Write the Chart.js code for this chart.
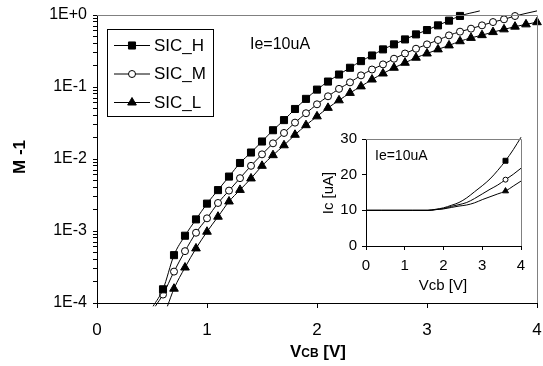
<!DOCTYPE html>
<html>
<head>
<meta charset="utf-8">
<script src="https://cdn.jsdelivr.net/npm/chart.js@4.4.0/dist/chart.umd.min.js"></script>
<style>
  html, body { margin: 0; padding: 0; background: #fff; }
  #wrap { position: relative; width: 543px; height: 366px; }
  #main { position: absolute; left: 0; top: 0; }
  #inset { position: absolute; left: 300px; top: 125px; }
</style>
</head>
<body>
<div id="wrap">
  <canvas id="main" width="543" height="366"></canvas>
  <canvas id="inset" width="235" height="175"></canvas>
</div>
<script>
// ----- main chart data (M-1 vs Vcb) -----
const hVolts = [0.6,0.7,0.8,0.9,1.0,1.1,1.2,1.3,1.4,1.5,1.6,1.7,1.8,1.9,2.0,2.1,2.2,2.3,2.4,2.5,2.6,2.7,2.8,2.9,3.0,3.1,3.2,3.3];
const hValues = [1.55e-4,4.62e-4,8.6e-4,1.45e-3,2.4e-3,3.7e-3,5.7e-3,8.8e-3,0.0123,0.0175,0.0251,0.0347,0.0495,0.0684,0.092,0.119,0.149,0.185,0.229,0.274,0.333,0.391,0.458,0.538,0.618,0.718,0.835,0.97];

const mVolts = [0.6,0.7,0.8,0.9,1.0,1.1,1.2,1.3,1.4,1.5,1.6,1.7,1.8,1.9,2.0,2.1,2.2,2.3,2.4,2.5,2.6,2.7,2.8,2.9,3.0,3.1,3.2,3.3,3.4,3.5,3.6,3.7,3.8];
const mValues = [1.31e-4,2.73e-4,5.25e-4,9.46e-4,1.5e-3,2.45e-3,3.64e-3,5.42e-3,8.04e-3,0.0116,0.0165,0.023,0.032,0.0432,0.0575,0.0743,0.0942,0.116,0.145,0.175,0.206,0.247,0.292,0.34,0.391,0.449,0.521,0.587,0.646,0.718,0.798,0.871,0.968];

const lVolts = [0.7,0.8,0.9,1.0,1.1,1.2,1.3,1.4,1.5,1.6,1.7,1.8,1.9,2.0,2.1,2.2,2.3,2.4,2.5,2.6,2.7,2.8,2.9,3.0,3.1,3.2,3.3,3.4,3.5,3.6,3.7,3.8,3.9,4.0];
const lValues = [1.58e-4,3.11e-4,5.73e-4,9.77e-4,1.58e-3,2.57e-3,3.72e-3,5.37e-3,8.04e-3,0.0113,0.0155,0.0217,0.0295,0.0391,0.0513,0.0653,0.0828,0.102,0.127,0.154,0.185,0.217,0.255,0.292,0.333,0.378,0.432,0.481,0.525,0.579,0.632,0.689,0.741,0.794];

// where the fitted lines run past the first / last marker
const hLineStart = [0.51, 9e-5],  hLineEnd = [3.48, 1.14];
const mLineStart = [0.53, 9e-5],  mLineEnd = [4.0, 1.14];
const lLineStart = [0.64, 9e-5],  lLineEnd = null;

const xTicks = [0, 1, 2, 3, 4];
const yMajorTicks = [1e-4, 1e-3, 1e-2, 1e-1, 1];
const yTickLabels = ['1E-4', '1E-3', '1E-2', '1E-1', '1E+0'];

// ----- inset data (Ic vs Vcb) -----
const insetVolts = [0,0.4,0.8,1.2,1.6,1.8,2.0,2.2,2.4,2.6,2.8,3.0,3.2,3.4,3.6,3.8,4.0];
const insetH = [10,10,10,10,10,10.3,10.7,11.4,12.2,13.5,15.2,16.9,18.8,21.2,23.9,27.0,30.5];
const insetM = [10,10,10,10,10,10.2,10.5,11.1,11.6,12.2,13.3,14.6,15.9,17.1,18.6,20.1,21.8];
const insetL = [10,10,10,10,10,10.2,10.4,10.8,11.2,11.5,12.1,13.0,13.8,14.6,15.4,16.8,18.2];
const insetMarkerAt = 3.6;
const insetXTicks = [0, 1, 2, 3, 4];
const insetYTicks = [0, 10, 20, 30];

const FONT = "'Liberation Sans', Arial, sans-serif";
Chart.defaults.font.family = FONT;
Chart.defaults.color = '#000';

// minor ticks 2..9 in each decade, so the log axis gets its small marks
const yTickValues = [];
yMajorTicks.forEach((v, i) => {
  yTickValues.push(v);
  if (i < yMajorTicks.length - 1) for (let k = 2; k <= 9; k++) yTickValues.push(v * k);
});

function lineData(start, xs, ys, end) {
  const d = xs.map((x, i) => ({ x: x, y: ys[i] }));
  if (start) d.unshift({ x: start[0], y: start[1], ext: true });
  if (end) d.push({ x: end[0], y: end[1], ext: true });
  return d;
}

const SERIES = [
  { label: 'SIC_H', style: 'rect',     radius: 5,   fill: '#000' },
  { label: 'SIC_M', style: 'circle',   radius: 3.5, fill: '#fff' },
  { label: 'SIC_L', style: 'triangle', radius: 5,   fill: '#000' }
];

function mainDataset(s, data) {
  return {
    label: s.label,
    data: data,
    borderColor: '#000',
    borderWidth: 1,
    pointStyle: s.style,
    pointRadius: c => (c.raw && c.raw.ext) ? 0 : s.radius,
    pointHoverRadius: c => (c.raw && c.raw.ext) ? 0 : s.radius,
    pointBackgroundColor: s.fill,
    pointBorderColor: '#000',
    pointBorderWidth: 1,
    cubicInterpolationMode: 'monotone',
    clip: false
  };
}

// keep the plot box where the layout padding puts it (no label overflow padding)
function noXPad(s, h) { s.height = h; s.paddingLeft = 0; s.paddingRight = 0; }
function noYPad(s, w) { s.width = w; s.paddingTop = 0; s.paddingBottom = 0; }

const mainDecor = {
  id: 'mainDecor',
  afterDraw(chart) {
    const ctx = chart.ctx, a = chart.chartArea;
    ctx.save();
    // plot area frame on top and right
    ctx.strokeStyle = '#808080';
    ctx.lineWidth = 1;
    ctx.beginPath();
    ctx.moveTo(a.left, a.top + 0.5);
    ctx.lineTo(a.right + 0.5, a.top + 0.5);
    ctx.lineTo(a.right + 0.5, a.bottom);
    ctx.stroke();

    // legend box
    ctx.strokeStyle = '#000';
    ctx.fillStyle = '#fff';
    ctx.fillRect(107.5, 29.5, 106, 87);
    ctx.strokeRect(107.5, 29.5, 106, 87);
    const rows = [45, 73.5, 102];
    ctx.font = '17px ' + FONT;
    ctx.textBaseline = 'middle';
    SERIES.forEach((s, i) => {
      const y = rows[i];
      ctx.strokeStyle = '#000';
      ctx.beginPath();
      ctx.moveTo(114, y + 0.5);
      ctx.lineTo(150, y + 0.5);
      ctx.stroke();
      ctx.fillStyle = s.fill;
      Chart.helpers.drawPoint(ctx, { pointStyle: s.style, radius: s.radius, borderWidth: 1, rotation: 0 }, 132, y + 0.5);
      ctx.fillStyle = '#000';
      ctx.fillText(s.label, 154, y + 1);
    });

    ctx.font = '16px ' + FONT;
    ctx.fillText('Ie=10uA', 250, 45);

    // y title
    ctx.save();
    ctx.translate(20, 157);
    ctx.rotate(-Math.PI / 2);
    ctx.font = 'bold 17px ' + FONT;
    ctx.textAlign = 'center';
    ctx.fillText('M -1', 0, 0);
    ctx.restore();

    // x title V with CB subscript caps
    const parts = [['V', 17], ['CB', 12], [' [V]', 17]];
    let w = 0;
    parts.forEach(p => { ctx.font = 'bold ' + p[1] + 'px ' + FONT; w += ctx.measureText(p[0]).width; });
    let x = 318 - w / 2;
    ctx.textBaseline = 'alphabetic';
    parts.forEach(p => {
      ctx.font = 'bold ' + p[1] + 'px ' + FONT;
      ctx.fillText(p[0], x, 357);
      x += ctx.measureText(p[0]).width;
    });
    ctx.restore();
  }
};

new Chart(document.getElementById('main').getContext('2d'), {
  type: 'line',
  data: {
    datasets: [
      mainDataset(SERIES[0], lineData(hLineStart, hVolts, hValues, hLineEnd)),
      mainDataset(SERIES[1], lineData(mLineStart, mVolts, mValues, mLineEnd)),
      mainDataset(SERIES[2], lineData(lLineStart, lVolts, lValues, lLineEnd))
    ]
  },
  options: {
    responsive: false,
    animation: false,
    layout: { padding: { left: 0, right: 5, top: 15, bottom: 0 } },
    plugins: { legend: { display: false }, tooltip: { enabled: false } },
    scales: {
      x: {
        type: 'linear', min: 0, max: 4,
        afterBuildTicks: s => { s.ticks = xTicks.map(v => ({ value: v })); },
        ticks: { font: { size: 17 }, padding: 12, maxRotation: 0 },
        grid: { drawOnChartArea: false, tickLength: 5, color: '#000' },
        border: { color: '#000' },
        afterFit: s => noXPad(s, 63)
      },
      y: {
        type: 'logarithmic', min: 1e-4, max: 1,
        afterBuildTicks: s => { s.ticks = yTickValues.map(v => ({ value: v })); },
        ticks: {
          autoSkip: false, font: { size: 16 }, padding: 6,
          callback: v => {
            const i = yMajorTicks.findIndex(m => Math.abs(m - v) / m < 1e-6);
            return i >= 0 ? yTickLabels[i] : '';
          }
        },
        grid: { drawOnChartArea: false, tickLength: 4, color: '#000' },
        border: { color: '#000' },
        afterFit: s => noYPad(s, 97)
      }
    }
  },
  plugins: [mainDecor]
});

// ----- inset -----
function insetDataset(s, ys, r) {
  return {
    data: insetVolts.map((x, i) => ({ x: x, y: ys[i] })),
    borderColor: '#000',
    borderWidth: 1,
    pointStyle: s.style,
    pointRadius: c => (c.raw && c.raw.x === insetMarkerAt) ? r : 0,
    pointHoverRadius: 0,
    pointBackgroundColor: s.fill,
    pointBorderColor: '#000',
    pointBorderWidth: 1,
    cubicInterpolationMode: 'monotone',
    clip: false
  };
}

const insetDecor = {
  id: 'insetDecor',
  afterDraw(chart) {
    const ctx = chart.ctx, a = chart.chartArea;
    ctx.save();
    ctx.strokeStyle = '#808080';
    ctx.lineWidth = 1;
    ctx.beginPath();
    ctx.moveTo(a.left, a.top + 0.5);
    ctx.lineTo(a.right + 0.5, a.top + 0.5);
    ctx.lineTo(a.right + 0.5, a.bottom);
    ctx.stroke();

    ctx.fillStyle = '#000';
    ctx.textBaseline = 'middle';
    ctx.font = '14px ' + FONT;
    ctx.fillText('Ie=10uA', 75, 31);

    ctx.font = '15px ' + FONT;
    ctx.textAlign = 'center';
    ctx.fillText('Vcb [V]', 143, 161);

    ctx.save();
    ctx.translate(29, 68);
    ctx.rotate(-Math.PI / 2);
    ctx.fillText('Ic [uA]', 0, 0);
    ctx.restore();
    ctx.restore();
  }
};

new Chart(document.getElementById('inset').getContext('2d'), {
  type: 'line',
  data: {
    datasets: [
      insetDataset(SERIES[0], insetH, 3.5),
      insetDataset(SERIES[1], insetM, 2.5),
      insetDataset(SERIES[2], insetL, 3.5)
    ]
  },
  options: {
    responsive: false,
    animation: false,
    layout: { padding: { left: 0, right: 14, top: 14, bottom: 0 } },
    plugins: { legend: { display: false }, tooltip: { enabled: false } },
    scales: {
      x: {
        type: 'linear', min: 0, max: 4,
        afterBuildTicks: s => { s.ticks = insetXTicks.map(v => ({ value: v })); },
        ticks: { font: { size: 15 }, padding: 7, maxRotation: 0 },
        grid: { drawOnChartArea: false, tickLength: 4, color: '#000' },
        border: { color: '#000' },
        afterFit: s => noXPad(s, 54)
      },
      y: {
        type: 'linear', min: 0, max: 30,
        afterBuildTicks: s => { s.ticks = insetYTicks.map(v => ({ value: v })); },
        ticks: { font: { size: 15 }, padding: 5 },
        grid: { drawOnChartArea: false, tickLength: 4, color: '#000' },
        border: { color: '#000' },
        afterFit: s => noYPad(s, 66)
      }
    }
  },
  plugins: [insetDecor]
});
</script>
</body>
</html>
